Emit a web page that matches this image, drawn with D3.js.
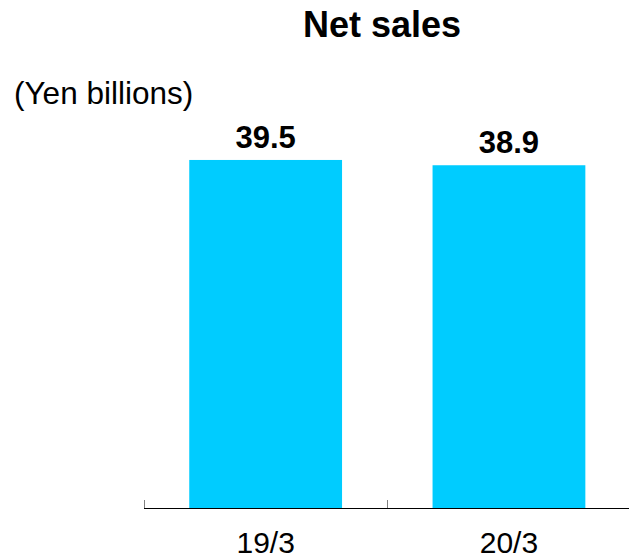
<!DOCTYPE html>
<html>
<head>
<meta charset="utf-8">
<script src="https://cdn.jsdelivr.net/npm/d3@7"></script>
<style>
  body { margin: 0; background: #fff; }
  text { font-family: "Liberation Sans", Arial, sans-serif; }
</style>
</head>
<body>
<svg width="629" height="559"></svg>
<script>
// data
var periods = ["19/3", "20/3"];
var netSales = [39.5, 38.9];
var valueLabels = ["39.5", "38.9"];

var svg = d3.select("svg");

var x = d3.scaleBand()
  .domain(periods)
  .range([144, 630.6])
  .paddingInner(0.372)
  .paddingOuter(0.186);

var y = d3.scaleLinear()
  .domain([0, 45])
  .range([508, 111.5]);

// title
svg.append("text")
  .attr("x", 382)
  .attr("y", 37)
  .attr("text-anchor", "middle")
  .attr("font-size", 36)
  .attr("font-weight", "bold")
  .text("Net sales");

svg.append("text")
  .attr("x", 14)
  .attr("y", 104)
  .attr("font-size", 31.5)
  .text("(Yen billions)");

// bars
svg.append("g").selectAll("rect")
  .data(periods)
  .join("rect")
  .attr("x", function(d) { return x(d); })
  .attr("y", function(d, i) { return y(netSales[i]); })
  .attr("width", x.bandwidth())
  .attr("height", function(d, i) { return y(0) - y(netSales[i]); })
  .attr("fill", "#00ccff");

// value labels
svg.append("g").selectAll("text")
  .data(periods)
  .join("text")
  .attr("x", function(d) { return x(d) + x.bandwidth() / 2; })
  .attr("y", function(d, i) { return y(netSales[i]) - 12; })
  .attr("text-anchor", "middle")
  .attr("font-size", 31)
  .attr("font-weight", "bold")
  .text(function(d, i) { return valueLabels[i]; });

// axis line and ticks at band edges
var axis = svg.append("g");
axis.append("line")
  .attr("x1", x.range()[0]).attr("x2", 629)
  .attr("y1", y(0) + 0.5).attr("y2", y(0) + 0.5)
  .attr("stroke", "#000").attr("stroke-width", 1);

var edges = periods.map(function(d) { return x(d) - x.paddingOuter() * x.step(); });
axis.selectAll(".tick")
  .data(edges)
  .join("line")
  .attr("class", "tick")
  .attr("x1", function(d) { return Math.round(d) + 0.5; })
  .attr("x2", function(d) { return Math.round(d) + 0.5; })
  .attr("y1", y(0) - 8).attr("y2", y(0))
  .attr("stroke", "#808080").attr("stroke-width", 1);

axis.selectAll(".cat")
  .data(periods)
  .join("text")
  .attr("class", "cat")
  .attr("x", function(d) { return x(d) + x.bandwidth() / 2; })
  .attr("y", 553)
  .attr("text-anchor", "middle")
  .attr("font-size", 30)
  .text(function(d) { return d; });
</script>
</body>
</html>
